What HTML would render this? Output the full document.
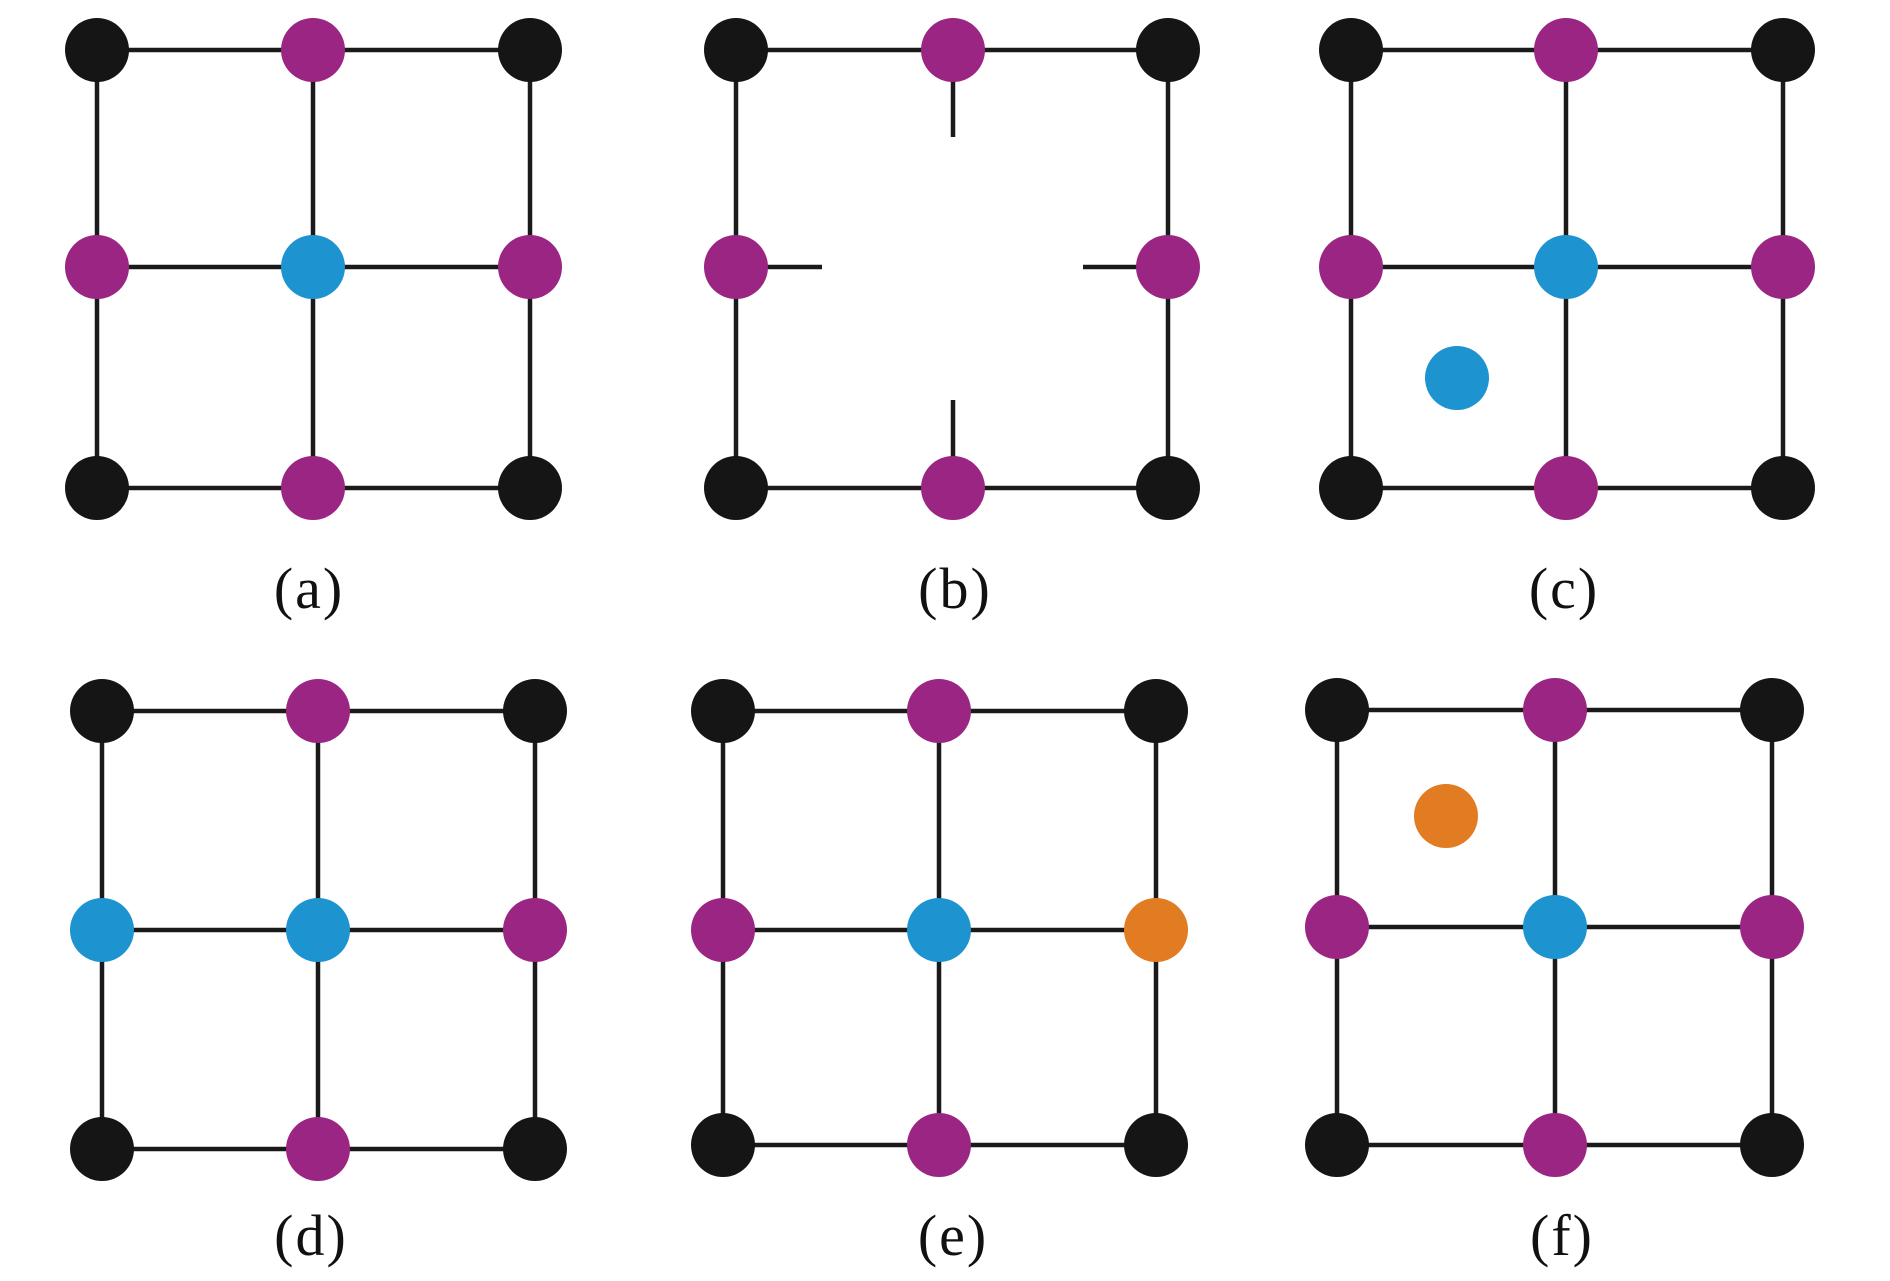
<!DOCTYPE html>
<html><head><meta charset="utf-8"><style>html,body{margin:0;padding:0;background:#fff}</style></head>
<body>
<svg width="1890" height="1276" viewBox="0 0 1890 1276" xmlns="http://www.w3.org/2000/svg">
<defs>
<style>
.l{stroke:#1a1a1a;stroke-width:4.5;fill:none}
.k{fill:#151515}.p{fill:#9b2583}.b{fill:#1d93cf}.o{fill:#e27c22}
text{font-family:"Liberation Serif",serif;font-size:58px;fill:#111;text-anchor:middle;letter-spacing:2px}
</style>
</defs>
<g>
<path class="l" d="M97 50H530M97 267H530M97 488H530M97 50V488M313 50V488M530 50V488"/>
<circle class="k" cx="97" cy="50" r="32"/><circle class="p" cx="313" cy="50" r="32"/><circle class="k" cx="530" cy="50" r="32"/>
<circle class="p" cx="97" cy="267" r="32"/><circle class="b" cx="313" cy="267" r="32"/><circle class="p" cx="530" cy="267" r="32"/>
<circle class="k" cx="97" cy="488" r="32"/><circle class="p" cx="313" cy="488" r="32"/><circle class="k" cx="530" cy="488" r="32"/>
<text x="309" y="608">(a)</text>
</g>
<g>
<path class="l" d="M736 50H1168M736 488H1168M736 50V488M1168 50V488M953 50V137M953 400V488M736 267H822M1083 267H1168"/>
<circle class="k" cx="736" cy="50" r="32"/><circle class="p" cx="953" cy="50" r="32"/><circle class="k" cx="1168" cy="50" r="32"/>
<circle class="p" cx="736" cy="267" r="32"/><circle class="p" cx="1168" cy="267" r="32"/>
<circle class="k" cx="736" cy="488" r="32"/><circle class="p" cx="953" cy="488" r="32"/><circle class="k" cx="1168" cy="488" r="32"/>
<text x="955" y="608">(b)</text>
</g>
<g>
<path class="l" d="M1351 50H1783M1351 267H1783M1351 488H1783M1351 50V488M1566 50V488M1783 50V488"/>
<circle class="k" cx="1351" cy="50" r="32"/><circle class="p" cx="1566" cy="50" r="32"/><circle class="k" cx="1783" cy="50" r="32"/>
<circle class="p" cx="1351" cy="267" r="32"/><circle class="b" cx="1566" cy="267" r="32"/><circle class="p" cx="1783" cy="267" r="32"/>
<circle class="k" cx="1351" cy="488" r="32"/><circle class="p" cx="1566" cy="488" r="32"/><circle class="k" cx="1783" cy="488" r="32"/>
<circle class="b" cx="1457" cy="378" r="32"/>
<text x="1564" y="608">(c)</text>
</g>
<g>
<path class="l" d="M102 711H535M102 930H535M102 1149H535M102 711V1149M318 711V1149M535 711V1149"/>
<circle class="k" cx="102" cy="711" r="32"/><circle class="p" cx="318" cy="711" r="32"/><circle class="k" cx="535" cy="711" r="32"/>
<circle class="b" cx="102" cy="930" r="32"/><circle class="b" cx="318" cy="930" r="32"/><circle class="p" cx="535" cy="930" r="32"/>
<circle class="k" cx="102" cy="1149" r="32"/><circle class="p" cx="318" cy="1149" r="32"/><circle class="k" cx="535" cy="1149" r="32"/>
<text x="311" y="1255">(d)</text>
</g>
<g>
<path class="l" d="M723 711H1156M723 930H1156M723 1145H1156M723 711V1145M939 711V1145M1156 711V1145"/>
<circle class="k" cx="723" cy="711" r="32"/><circle class="p" cx="939" cy="711" r="32"/><circle class="k" cx="1156" cy="711" r="32"/>
<circle class="p" cx="723" cy="930" r="32"/><circle class="b" cx="939" cy="930" r="32"/><circle class="o" cx="1156" cy="930" r="32"/>
<circle class="k" cx="723" cy="1145" r="32"/><circle class="p" cx="939" cy="1145" r="32"/><circle class="k" cx="1156" cy="1145" r="32"/>
<text x="953" y="1255">(e)</text>
</g>
<g>
<path class="l" d="M1337 710H1772M1337 927H1772M1337 1145H1772M1337 710V1145M1555 710V1145M1772 710V1145"/>
<circle class="k" cx="1337" cy="710" r="32"/><circle class="p" cx="1555" cy="710" r="32"/><circle class="k" cx="1772" cy="710" r="32"/>
<circle class="p" cx="1337" cy="927" r="32"/><circle class="b" cx="1555" cy="927" r="32"/><circle class="p" cx="1772" cy="927" r="32"/>
<circle class="k" cx="1337" cy="1145" r="32"/><circle class="p" cx="1555" cy="1145" r="32"/><circle class="k" cx="1772" cy="1145" r="32"/>
<circle class="o" cx="1446" cy="816" r="32"/>
<text x="1562" y="1255">(f)</text>
</g>
</svg>
</body></html>
